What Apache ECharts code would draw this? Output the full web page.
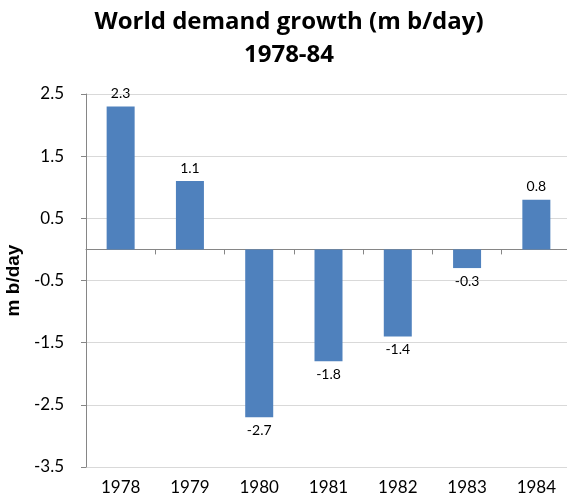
<!DOCTYPE html>
<html>
<head>
<meta charset="utf-8">
<script src="https://cdn.jsdelivr.net/npm/echarts@6/dist/echarts.min.js"></script>
<style>
  html, body { margin: 0; padding: 0; background: #fff; }
  #chart { width: 567px; height: 495px; }
</style>
</head>
<body>
<div id="chart"></div>
<script>
// data
var years = ['1978', '1979', '1980', '1981', '1982', '1983', '1984'];
var growth = [2.3, 1.1, -2.7, -1.8, -1.4, -0.3, 0.8];
var yTicks = [-3.5, -2.5, -1.5, -0.5, 0.5, 1.5, 2.5];

var font = 'Lato, "Open Sans", sans-serif';
var titleFont = '"Open Sans", sans-serif';

// labels above positive bars, below negative ones
var barData = growth.map(function (v) {
  return { value: v, label: { position: v < 0 ? 'bottom' : 'top' } };
});

var chart = echarts.init(document.getElementById('chart'));

var option = {
  animation: false,
  title: [
    {
      text: 'World demand growth (m b/day)',
      left: 284, top: 5, textAlign: 'center',
      textStyle: { fontFamily: titleFont, fontSize: 24, fontWeight: 'bold', color: '#000' }
    },
    {
      text: '1978-84',
      left: 284, top: 38, textAlign: 'center',
      textStyle: { fontFamily: titleFont, fontSize: 24, fontWeight: 'bold', color: '#000' }
    }
  ],
  grid: { left: 86, right: -4, top: 94, bottom: 28, containLabel: false, outerBoundsMode: 'none' },
  xAxis: [
    {
      type: 'category',
      data: years,
      position: 'bottom',
      axisLine: { show: false, onZero: false },
      axisTick: { show: false },
      axisLabel: { fontFamily: font, fontSize: 17, color: '#000', margin: 12 },
      splitLine: { show: false }
    },
    {
      // the zero line with its tick marks
      type: 'category',
      data: years,
      position: 'top',
      axisLine: { show: true, onZero: true, lineStyle: { color: '#868686', width: 1 } },
      axisTick: { show: true, inside: true, length: 5, lineStyle: { color: '#868686' } },
      axisLabel: { show: false },
      splitLine: { show: false }
    }
  ],
  yAxis: {
    type: 'value',
    min: -3.5,
    max: 2.5,
    interval: 0.5,
    name: 'm b/day',
    nameLocation: 'middle',
    nameGap: 59,
    nameTextStyle: { fontFamily: '"Liberation Sans", Arial, sans-serif', fontSize: 19, fontWeight: 'bold', color: '#000' },
    axisLine: { show: true, lineStyle: { color: '#868686' } },
    axisTick: { show: true, length: 5, customValues: yTicks, lineStyle: { color: '#868686' } },
    axisLabel: {
      customValues: yTicks,
      fontFamily: font, fontSize: 17, color: '#000', margin: 22,
      formatter: function (v) { return v.toFixed(1); }
    },
    splitLine: { show: true, lineStyle: { color: '#d9d9d9' } }
  },
  series: [{
    type: 'bar',
    xAxisIndex: 0,
    data: barData,
    barWidth: 28,
    itemStyle: { color: '#4f81bd' },
    label: {
      show: true,
      distance: 6,
      fontFamily: font, fontSize: 14, color: '#000',
      formatter: function (p) { return p.value.toFixed(1); }
    }
  }]
};

chart.setOption(option);
</script>
</body>
</html>
